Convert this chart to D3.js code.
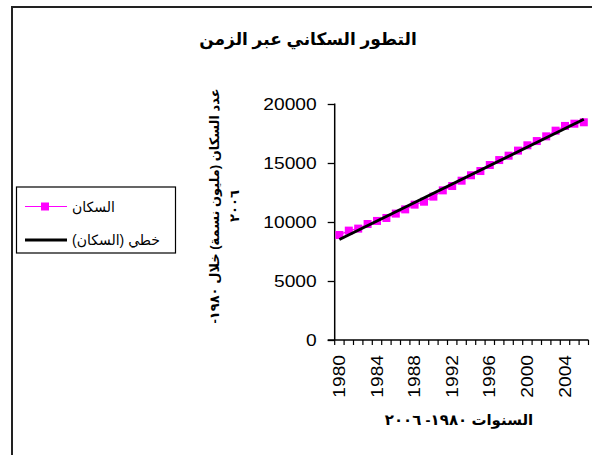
<!DOCTYPE html>
<html><head><meta charset="utf-8">
<script src="https://cdn.jsdelivr.net/npm/d3@7/dist/d3.min.js"></script>
<style>
html,body{margin:0;padding:0;background:#fff;}
svg{display:block;}
text{font-family:"Liberation Sans","DejaVu Sans",Arial,sans-serif;fill:#000;}
</style></head>
<body>
<svg id="c" width="592" height="455"></svg>
<script>
// ---- data ----
const years = [1980,1981,1982,1983,1984,1985,1986,1987,1988,1989,1990,1991,1992,1993,1994,1995,1996,1997,1998,1999,2000,2001,2002,2003,2004,2005,2006];
const population = [8900,9270,9440,9830,10090,10340,10710,11070,11470,11720,12150,12680,13050,13500,13960,14320,14830,15250,15620,16050,16500,16860,17260,17740,18140,18330,18450];
const yTicks = [0,5000,10000,15000,20000];
const xTickYears = [1980,1984,1988,1992,1996,2000,2004];
const chartTitle = "التطور السكاني عبر الزمن";
const yTitleLines = ["عدد السكان (مليون نسمة) خلال ١٩٨٠-","٢٠٠٦"];
const xTitle = "السنوات ١٩٨٠- ٢٠٠٦";
const legendLabels = ["السكان","خطي (السكان)"];

const svg = d3.select("#c");
const magenta = "#FF00FF";

// outer frame
svg.append("rect").attr("x",12).attr("y",7).attr("width",640).attr("height",520)
  .attr("fill","none").attr("stroke","#222").attr("stroke-width",2);

const pL = 334.7, pR = 588.5, pT = 104, pB = 340;
const x = d3.scaleBand().domain(years).range([pL,pR]).paddingInner(0).paddingOuter(0);
const y = d3.scaleLinear().domain([0,20000]).range([pB,pT]);
const cx = d => x(d) + x.bandwidth()/2;

// y axis
const gy = svg.append("g").attr("transform",`translate(${pL},0)`)
  .call(d3.axisLeft(y).tickValues(yTicks).tickSize(7).tickPadding(0).tickFormat(d3.format("d")));
gy.select(".domain").attr("stroke","#000").attr("stroke-width",1.5).attr("d",`M0,${pT-0.5}V${pB}`);
gy.selectAll(".tick line").attr("stroke","#000").attr("stroke-width",1.3);
gy.selectAll(".tick text").attr("font-size",16).attr("x",0).attr("dy","0.36em")
  .attr("transform","translate(-18,0) scale(1.2,1)").style("font-family","Liberation Sans, Arial, sans-serif");

// x axis: tick marks at category boundaries
const boundaries = years.map(d=>x(d)).concat([pR]);
const gx = svg.append("g");
gx.append("line").attr("x1",pL-7).attr("x2",pR).attr("y1",pB).attr("y2",pB)
  .attr("stroke","#000").attr("stroke-width",1.5);
gx.selectAll("line.tk").data(boundaries).join("line").attr("class","tk")
  .attr("x1",d=>d).attr("x2",d=>d).attr("y1",pB).attr("y2",pB+5)
  .attr("stroke","#000").attr("stroke-width",1.2);
gx.selectAll("text.xl").data(xTickYears).join("text").attr("class","xl")
  .attr("transform",d=>`translate(${cx(d)+5.5},${pB+15}) rotate(-90) scale(1.2,1)`)
  .attr("text-anchor","end").attr("font-size",16).text(d=>d);

// series line + markers
svg.append("path").datum(years.map((d,i)=>[cx(d),y(population[i])]))
  .attr("d",d3.line()).attr("fill","none").attr("stroke",magenta).attr("stroke-width",1.2);
svg.selectAll("rect.mk").data(years).join("rect").attr("class","mk")
  .attr("x",d=>cx(d)-4).attr("y",(d,i)=>y(population[i])-4).attr("width",8).attr("height",8)
  .attr("fill",magenta);

// linear trendline (least squares over category index)
const n = years.length;
const idx = years.map((d,i)=>i+1);
const mx = d3.mean(idx), my = d3.mean(population);
const slope = d3.sum(idx.map((t,i)=>(t-mx)*(population[i]-my)))/d3.sum(idx.map(t=>(t-mx)*(t-mx)));
const icpt = my - slope*mx;
svg.append("line")
  .attr("x1",cx(years[0])).attr("y1",y(icpt+slope*1))
  .attr("x2",cx(years[n-1])).attr("y2",y(icpt+slope*n))
  .attr("stroke","#000").attr("stroke-width",3);

// title
svg.append("text").attr("x",308).attr("y",45).attr("text-anchor","middle")
  .attr("direction","rtl").attr("font-size",17).attr("font-weight","bold").text(chartTitle);

// y title
const yt = svg.append("text").attr("transform","translate(219,206) rotate(-90)")
  .attr("text-anchor","middle").attr("direction","rtl").attr("font-size",13).attr("font-weight","bold");
yTitleLines.forEach((l,i)=>yt.append("tspan").attr("x",0).attr("y",i*20).text(l));

// x title
svg.append("text").attr("x",459).attr("y",425).attr("text-anchor","middle")
  .attr("direction","rtl").attr("font-size",15).attr("font-weight","bold").text(xTitle);

// legend
const lg = svg.append("g");
lg.append("rect").attr("x",16.5).attr("y",187).attr("width",159).attr("height",66)
  .attr("fill","#fff").attr("stroke","#000").attr("stroke-width",1.2);
const ly = [206.5, 240];
lg.append("line").attr("x1",25).attr("x2",67).attr("y1",ly[0]).attr("y2",ly[0]).attr("stroke",magenta).attr("stroke-width",1.2);
lg.append("rect").attr("x",41).attr("y",ly[0]-4).attr("width",8).attr("height",8).attr("fill",magenta);
lg.append("line").attr("x1",25).attr("x2",67).attr("y1",ly[1]).attr("y2",ly[1]).attr("stroke","#000").attr("stroke-width",3);
legendLabels.forEach((t,i)=>{
  lg.append("text").attr("x",72).attr("y",ly[i]+5).attr("direction","rtl").attr("text-anchor","end")
    .attr("font-size",14).text(t);
});
</script>
</body></html>
